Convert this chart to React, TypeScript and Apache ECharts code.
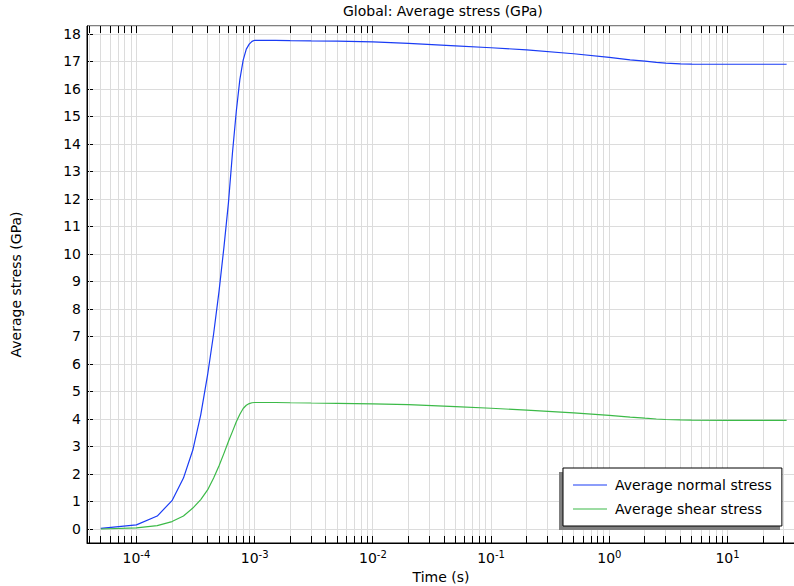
import React, { useEffect, useRef } from "react";
import * as echarts from "echarts";

const FONT = "DejaVu Sans";

// Time steps (s)
const times = [
  5e-5, 1e-4, 1.5e-4, 2e-4, 2.5e-4, 3e-4, 3.5e-4, 4e-4, 4.5e-4, 5e-4, 5.5e-4,
  6e-4, 6.5e-4, 7e-4, 7.5e-4, 8e-4, 8.5e-4, 9e-4, 9.5e-4, 1e-3, 1.5e-3, 2e-3,
  3e-3, 5e-3, 1e-2, 2e-2, 5e-2, 0.1, 0.2, 0.5, 1, 1.5, 2, 2.5, 3, 4, 5, 10, 20,
  31.6,
];

// Average normal stress (GPa)
const normalStress = [
  0.02, 0.15, 0.47, 1.03, 1.85, 2.87, 4.15, 5.6, 7.1, 8.65, 10.25, 11.85,
  13.7, 15.2, 16.35, 17.05, 17.45, 17.63, 17.73, 17.77, 17.77, 17.76, 17.75,
  17.74, 17.71, 17.66, 17.57, 17.5, 17.42, 17.28, 17.15, 17.06, 17.01, 16.97,
  16.94, 16.915, 16.905, 16.9, 16.9, 16.9,
];

// Average shear stress (GPa)
const shearStress = [
  0.0, 0.04, 0.12, 0.27, 0.47, 0.76, 1.07, 1.42, 1.85, 2.3, 2.75, 3.18, 3.55,
  3.9, 4.17, 4.38, 4.5, 4.56, 4.59, 4.6, 4.6, 4.59, 4.58, 4.57, 4.55, 4.52,
  4.45, 4.39, 4.32, 4.22, 4.13, 4.07, 4.03, 4.0, 3.98, 3.965, 3.955, 3.95,
  3.95, 3.95,
];

const seriesNames = ["Average normal stress", "Average shear stress"];
const seriesColors = ["#1a3cf5", "#3cba48"];

// Axis extents
const xMin = 3.82e-5;
const xMax = 37.2;
const yMin = -0.51;
const yMax = 18.29;

// Log-axis tick positions (decade x mantissa)
const decades = [1e-5, 1e-4, 1e-3, 1e-2, 1e-1, 1, 10];
const mantissas = [1, 2, 3, 4, 5, 6, 7, 8, 9];
const xTicks: number[] = [];
decades.forEach((d) =>
  mantissas.forEach((m) => {
    const v = m * d;
    if (v >= xMin && v <= xMax) xTicks.push(v);
  })
);

const legendLineIcon = "path://M0,0L34,0L34,1.2L0,1.2Z";

export default function App() {
  const ref = useRef<HTMLDivElement>(null);

  useEffect(() => {
    if (!ref.current) return;
    const chart = echarts.init(ref.current, null, { renderer: "svg" });

    const crisp = (v: number) => Math.round(v - 0.5) + 0.5;

    const option: any = {
      animation: false,
      backgroundColor: "#ffffff",
      textStyle: { fontFamily: FONT },
      title: {
        text: "Global: Average stress (GPa)",
        left: 343,
        top: 4,
        padding: 0,
        textStyle: {
          fontFamily: FONT,
          fontSize: 14,
          fontWeight: "normal",
          color: "#000",
        },
      },
      grid: {
        left: 87,
        top: 26,
        width: 708,
        height: 517,
        containLabel: false,
        outerBoundsMode: "none",
        show: true,
        borderColor: "#000",
        borderWidth: 1,
        backgroundColor: "transparent",
      },
      legend: {
        data: seriesNames.map((n) => ({ name: n, icon: legendLineIcon })),
        orient: "vertical",
        left: 563,
        top: 468,
        padding: [10, 10, 10, 10],
        itemWidth: 34,
        itemHeight: 14,
        itemGap: 10,
        backgroundColor: "#fff",
        borderColor: "#000",
        borderWidth: 1,
        borderRadius: 0,
        selectedMode: false,
        z: 10,
        textStyle: {
          fontFamily: FONT,
          fontSize: 14,
          color: "#000",
          padding: [0, 0, 0, 3],
        },
      },
      graphic: {
        elements: [
          {
            type: "rect",
            z: 9,
            shape: { x: 559, y: 472, width: 221, height: 58 },
            style: { fill: "#7f7f7f" },
          },
        ],
      },
      xAxis: {
        type: "log",
        logBase: 10,
        min: xMin,
        max: xMax,
        name: "Time (s)",
        nameLocation: "middle",
        nameGap: 20,
        nameTextStyle: { fontFamily: FONT, fontSize: 14, color: "#000" },
        axisLine: {
          show: true,
          onZero: false,
          lineStyle: { color: "#000", width: 1 },
        },
        axisTick: { show: false },
        splitLine: { show: false },
        minorTick: { show: false },
        minorSplitLine: { show: false },
        axisLabel: {
          margin: 6,
          color: "#000",
          showMinLabel: false,
          showMaxLabel: false,
          formatter: (v: number) => {
            const lg = Math.log10(v);
            const e = Math.round(lg);
            if (Math.abs(lg - e) > 1e-6) return "";
            return `{b|10}{s|${e}}`;
          },
          rich: {
            b: {
              fontFamily: FONT,
              fontSize: 14,
              lineHeight: 18,
              color: "#000",
            },
            s: {
              fontFamily: FONT,
              fontSize: 10,
              lineHeight: 10,
              verticalAlign: "top",
              color: "#000",
            },
          },
        },
      },
      yAxis: {
        type: "value",
        min: yMin,
        max: yMax,
        splitNumber: 19,
        minInterval: 1,
        maxInterval: 1,
        name: "Average stress (GPa)",
        nameLocation: "middle",
        nameGap: 64,
        nameTextStyle: { fontFamily: FONT, fontSize: 14, color: "#000" },
        axisLine: { show: true, lineStyle: { color: "#000", width: 1 } },
        axisTick: {
          show: true,
          inside: true,
          length: 6,
          lineStyle: { color: "#000" },
        },
        splitLine: { show: true, lineStyle: { color: "#dcdcdc", width: 1 } },
        axisLabel: {
          margin: 6,
          color: "#000",
          fontFamily: FONT,
          fontSize: 14,
          showMinLabel: false,
          showMaxLabel: false,
          formatter: (v: number) =>
            Math.abs(v - Math.round(v)) < 1e-6 ? String(Math.round(v)) : "",
        },
      },
      series: [
        {
          type: "custom",
          name: "xgrid",
          silent: true,
          z: 1,
          clip: false,
          data: xTicks.map((v) => [v, 0]),
          encode: { x: 0, y: 1 },
          renderItem: (params: any, api: any) => {
            const x = crisp(api.coord([api.value(0), 0])[0]);
            const cs = params.coordSys;
            const top = cs.y;
            const bottom = cs.y + cs.height;
            return {
              type: "group",
              children: [
                {
                  type: "line",
                  shape: { x1: x, y1: top, x2: x, y2: bottom },
                  style: { stroke: "#dcdcdc", lineWidth: 1 },
                },
                {
                  type: "line",
                  shape: { x1: x, y1: bottom, x2: x, y2: bottom - 7 },
                  style: { stroke: "#000", lineWidth: 1 },
                },
                {
                  type: "line",
                  shape: { x1: x, y1: top, x2: x, y2: top + 7 },
                  style: { stroke: "#000", lineWidth: 1 },
                },
              ],
            };
          },
        },
        {
          type: "line",
          name: seriesNames[0],
          z: 3,
          data: times.map((t, i) => [t, normalStress[i]]),
          showSymbol: false,
          symbol: "none",
          smooth: false,
          lineStyle: { color: seriesColors[0], width: 1.2 },
          itemStyle: { color: seriesColors[0] },
        },
        {
          type: "line",
          name: seriesNames[1],
          z: 3,
          data: times.map((t, i) => [t, shearStress[i]]),
          showSymbol: false,
          symbol: "none",
          smooth: false,
          lineStyle: { color: seriesColors[1], width: 1.2 },
          itemStyle: { color: seriesColors[1] },
        },
      ],
    };

    chart.setOption(option);
    return () => chart.dispose();
  }, []);

  return (
    <div
      ref={ref}
      style={{ position: "fixed", left: 0, top: 0, width: 794, height: 586 }}
    />
  );
}
